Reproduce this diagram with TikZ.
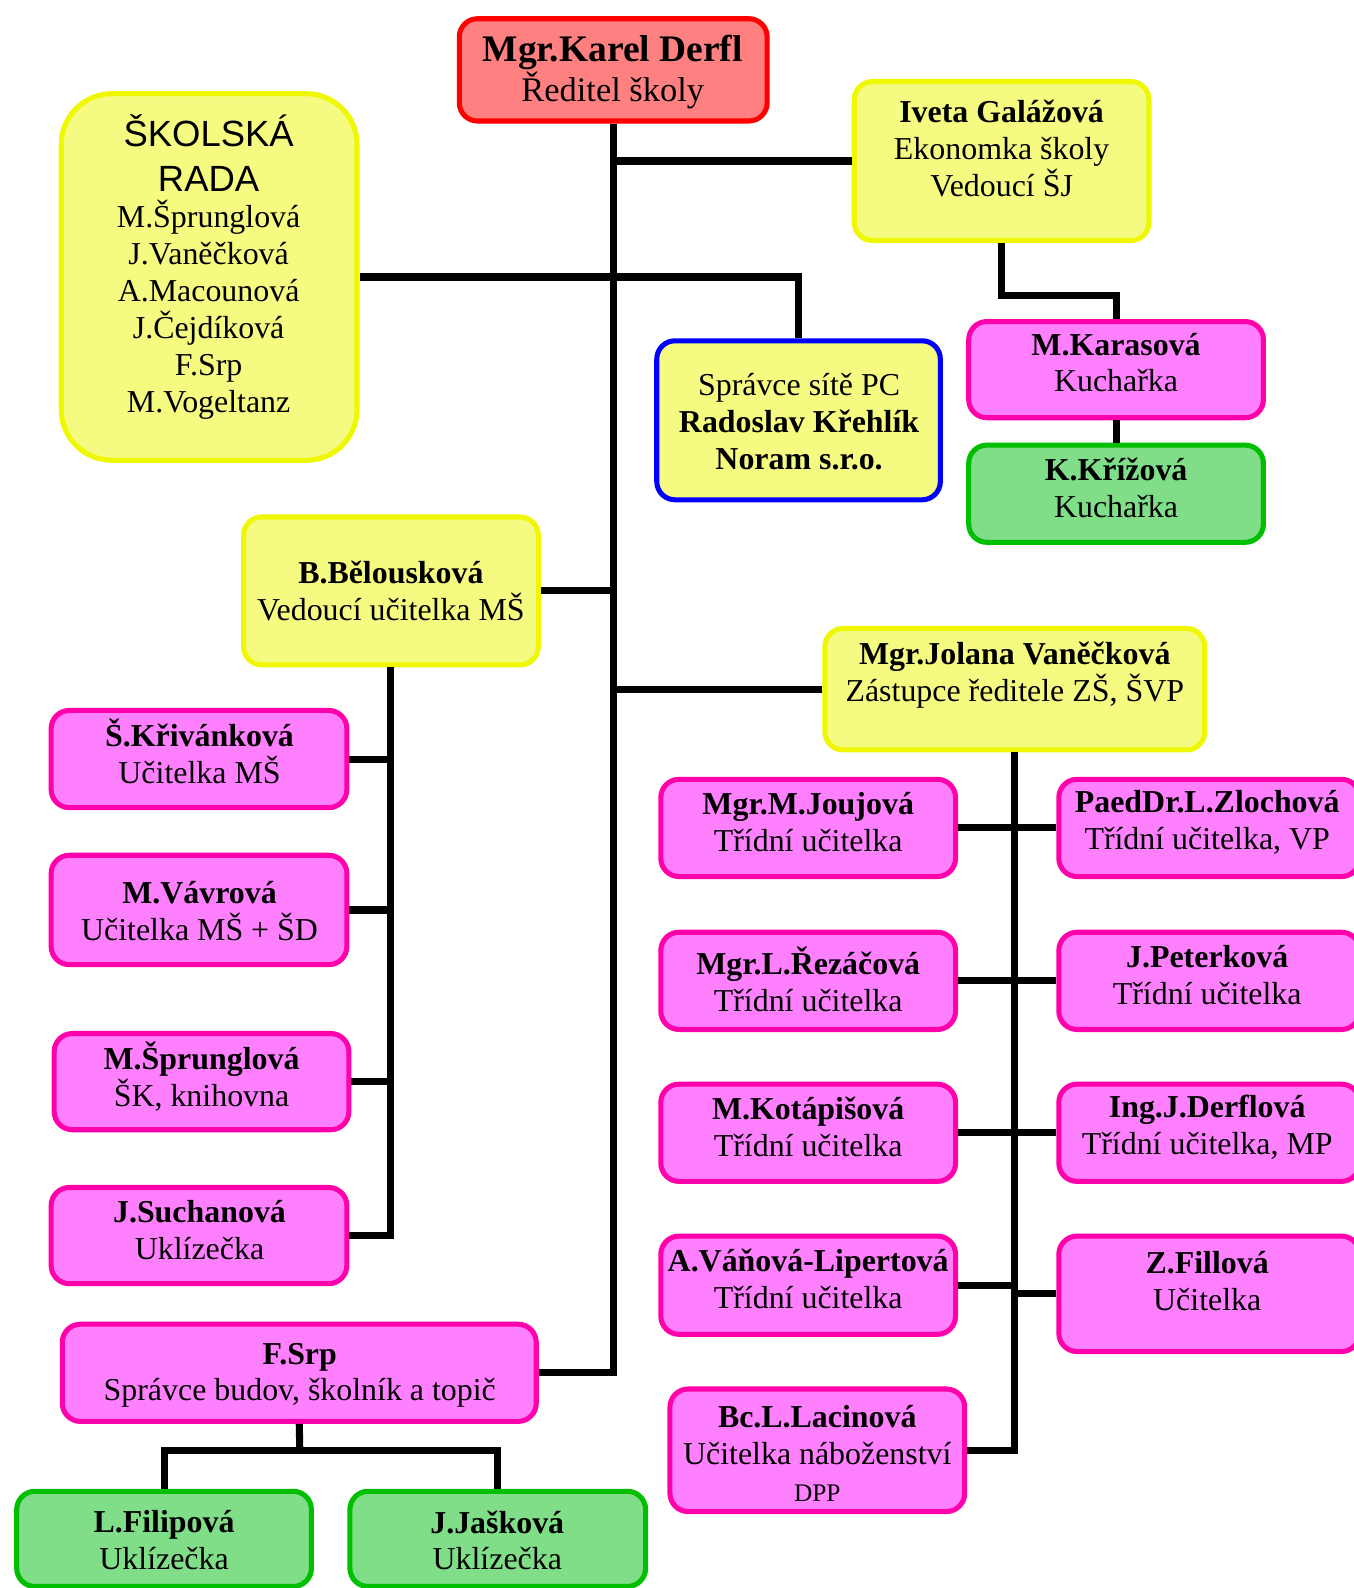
\documentclass[tikz,border=0pt]{standalone}
\usepackage{fontspec}
\setmainfont{Liberation Serif}
\newfontfamily\skolsans{Liberation Sans}
\definecolor{yfill}{RGB}{245,250,128}
\definecolor{ybord}{RGB}{240,248,0}
\definecolor{pfill}{RGB}{255,128,255}
\definecolor{pbord}{RGB}{255,0,170}
\definecolor{gfill}{RGB}{128,221,136}
\definecolor{gbord}{RGB}{0,190,0}
\definecolor{rfill}{RGB}{255,128,128}
\definecolor{rbord}{RGB}{255,0,0}
\definecolor{bbord}{RGB}{0,0,255}
\newcommand\bxnode[6]{\node[#1, minimum width={#5-#3-5}, minimum height={#6-#4-5}] (#2) at ({(#3+#5)/2},{(#4+#6)/2}) {};}
\begin{document}
\begin{tikzpicture}[x=1pt,y=-1pt,
  box/.style={draw, line width=5pt, rounded corners=18pt, inner sep=0pt},
  ybox/.style={box, draw=ybord, fill=yfill},
  pbox/.style={box, draw=pbord, fill=pfill},
  gbox/.style={box, draw=gbord, fill=gfill},
  rbox/.style={box, draw=rbord, fill=rfill},
  bbox/.style={box, draw=bbord, fill=yfill},
  txt/.style={align=center, inner sep=0pt, font=\fontsize{31.5}{36.5}\selectfont},
  conn/.style={line width=7pt, draw=black}]
\useasboundingbox (0,0) rectangle (1336,1568);
% boxes
\bxnode{rbox}{hdr}{451}{16}{760}{122}
\bxnode{ybox, rounded corners=50pt}{skr}{58}{90}{355}{457}
\bxnode{ybox}{ive}{841}{78}{1137}{240}
\bxnode{bbox}{spr}{646}{334}{931}{496}
\bxnode{pbox}{kar}{954}{315}{1250}{415}
\bxnode{gbox}{kri}{954}{437}{1250}{538}
\bxnode{ybox}{bel}{238}{508}{534}{659}
\bxnode{ybox}{jol}{812}{618}{1192}{743}
\bxnode{pbox}{kriv}{48}{699}{345}{800}
\bxnode{pbox}{vav}{48}{842}{345}{955}
\bxnode{pbox}{spru}{51}{1018}{347}{1118}
\bxnode{pbox}{such}{48}{1170}{345}{1270}
\bxnode{pbox}{fsrp}{59}{1305}{532}{1406}
\bxnode{gbox}{lfil}{14}{1470}{310}{1569}
\bxnode{gbox}{jas}{343}{1470}{640}{1569}
\bxnode{pbox}{jou}{650}{767}{946}{868}
\bxnode{pbox}{zlo}{1043}{767}{1345}{868}
\bxnode{pbox}{rez}{650}{918}{946}{1019}
\bxnode{pbox}{pet}{1043}{918}{1345}{1019}
\bxnode{pbox}{kot}{650}{1068}{946}{1169}
\bxnode{pbox}{der}{1043}{1068}{1345}{1169}
\bxnode{pbox}{van}{650}{1218}{946}{1320}
\bxnode{pbox}{fil}{1043}{1218}{1345}{1337}
\bxnode{pbox}{lac}{659}{1369}{955}{1495}
\coordinate (ivek) at (989,292);
\coordinate (fsj) at (296,1432);
% connectors
\draw[conn] (hdr.south) |- (fsrp.east);
\draw[conn] (hdr.south |- ive.west) -- (ive.west);
\draw[conn] (skr.east) -| (spr.north);
\draw[conn] (bel.east) -- (bel.east -| hdr.south);
\draw[conn] (jol.west) -- (jol.west -| hdr.south);
\draw[conn] (ive.south) -- (ivek) -| (kar.north);
\draw[conn] (kar.south) -- (kri.north);
\draw[conn] (bel.south) |- (such.east);
\draw[conn] (kriv.east) -- (kriv.east -| bel.south);
\draw[conn] (vav.east) -- (vav.east -| bel.south);
\draw[conn] (spru.east) -- (spru.east -| bel.south);
\draw[conn] (jol.south) |- (lac.east);
\draw[conn] (jou.east) -- (zlo.west);
\draw[conn] (rez.east) -- (pet.west);
\draw[conn] (kot.east) -- (der.west);
\draw[conn] (van.east) -- (van.east -| jol.south);
\draw[conn] (fil.west) -- (fil.west -| jol.south);
\draw[conn] (fsrp.south) -- (fsj);
\draw[conn] (lfil.north) |- (fsj) -| (jas.north);
% texts
\node[txt, font=\fontsize{37}{40}\selectfont] (thdr) at (605,71) {\textbf{Mgr.Karel Derfl}\\{\fontsize{34}{40}\selectfont Ředitel školy}};
\node[txt, font=\skolsans\fontsize{36}{45}\selectfont] (tskr1) at (206,151) {ŠKOLSKÁ\\RADA};
\node[txt] (tskr2) at (206,306) {M.Šprunglová\\J.Vaněčková\\A.Macounová\\J.Čejdíková\\F.Srp\\M.Vogeltanz};
\node[txt] (tive) at (989,147) {\textbf{Iveta Galážová}\\Ekonomka školy\\Vedoucí ŠJ};
\node[txt] (tspr) at (789,416) {Správce sítě PC\\\textbf{Radoslav Křehlík}\\\textbf{Noram s.r.o.}};
\node[txt] (tkar) at (1102,358) {\textbf{M.Karasová}\\Kuchařka};
\node[txt] (tkri) at (1102,482) {\textbf{K.Křížová}\\Kuchařka};
\node[txt] (tbel) at (386,584) {\textbf{B.Bělousková}\\Vedoucí učitelka MŠ};
\node[txt] (tjol) at (1002,667) {\textbf{Mgr.Jolana Vaněčková}\\Zástupce ředitele ZŠ, ŠVP};
\node[txt] (tkriv) at (197,742) {\textbf{Š.Křivánková}\\Učitelka MŠ};
\node[txt] (tvav) at (197,900) {\textbf{M.Vávrová}\\Učitelka MŠ + ŠD};
\node[txt] (tspru) at (199,1063) {\textbf{M.Šprunglová}\\ŠK, knihovna};
\node[txt] (tsuch) at (197,1215) {\textbf{J.Suchanová}\\Uklízečka};
\node[txt] (tfsrp) at (296,1358) {\textbf{F.Srp}\\Správce budov, školník a topič};
\node[txt] (tlfil) at (162,1521) {\textbf{L.Filipová}\\Uklízečka};
\node[txt] (tjas) at (491,1521) {\textbf{J.Jašková}\\Uklízečka};
\node[txt] (tjou) at (798,812) {\textbf{Mgr.M.Joujová}\\Třídní učitelka};
\node[txt] (tzlo) at (1192,812) {\textbf{PaedDr.L.Zlochová}\\Třídní učitelka, VP};
\node[txt] (trez) at (798,967) {\textbf{Mgr.L.Řezáčová}\\Třídní učitelka};
\node[txt] (tpet) at (1192,963) {\textbf{J.Peterková}\\Třídní učitelka};
\node[txt] (tkot) at (798,1113) {\textbf{M.Kotápišová}\\Třídní učitelka};
\node[txt] (tder) at (1192,1113) {\textbf{Ing.J.Derflová}\\Třídní učitelka, MP};
\node[txt] (tvan) at (798,1263) {\textbf{A.Váňová-Lipertová}\\Třídní učitelka};
\node[txt] (tfil) at (1192,1265) {\textbf{Z.Fillová}\\Učitelka};
\node[txt] (tlac) at (807,1435) {\textbf{Bc.L.Lacinová}\\Učitelka náboženství\\{\fontsize{25}{36.5}\selectfont DPP}};
\end{tikzpicture}
\end{document}
